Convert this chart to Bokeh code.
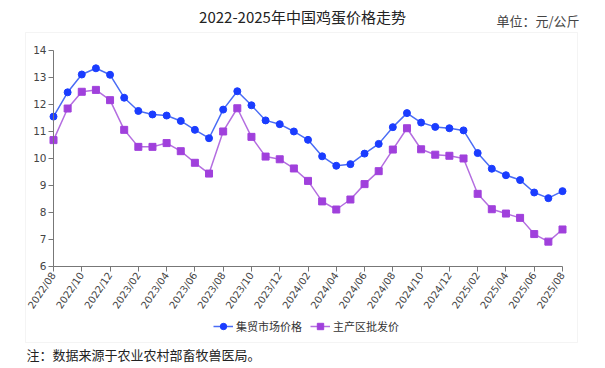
import math
from bokeh.plotting import figure
from bokeh.models import (Range1d, FixedTicker, Label, BoxAnnotation, Legend,
                          LegendItem, ColumnDataSource)
from bokeh.embed import file_html
from bokeh.resources import INLINE

# ---------------- data ----------------
months = ["2022/08", "2022/09", "2022/10", "2022/11", "2022/12",
          "2023/01", "2023/02", "2023/03", "2023/04", "2023/05", "2023/06",
          "2023/07", "2023/08", "2023/09", "2023/10", "2023/11", "2023/12",
          "2024/01", "2024/02", "2024/03", "2024/04", "2024/05", "2024/06",
          "2024/07", "2024/08", "2024/09", "2024/10", "2024/11", "2024/12",
          "2025/01", "2025/02", "2025/03", "2025/04", "2025/05", "2025/06",
          "2025/07", "2025/08"]
market = [11.54, 12.44, 13.10, 13.33, 13.09,
          12.24, 11.75, 11.62, 11.58, 11.38, 11.05, 10.74, 11.80, 12.48, 11.96, 11.40, 11.26,
          10.99, 10.68, 10.07, 9.72, 9.78, 10.17, 10.53, 11.15, 11.67, 11.32, 11.16, 11.11,
          11.03, 10.19, 9.61, 9.37, 9.19, 8.73, 8.52, 8.78]
wholesale = [10.67, 11.84, 12.46, 12.53, 12.15,
             11.05, 10.42, 10.42, 10.56, 10.26, 9.83, 9.43, 10.99, 11.85, 10.79, 10.06, 9.96,
             9.62, 9.16, 8.40, 8.10, 8.47, 9.04, 9.52, 10.32, 11.11, 10.33, 10.13, 10.09,
             9.99, 8.68, 8.11, 7.95, 7.79, 7.19, 6.91, 7.36]
series_names = ["集贸市场价格", "主产区批发价"]
y_ticks = [6, 7, 8, 9, 10, 11, 12, 13, 14]
title_text = "2022-2025年中国鸡蛋价格走势"
unit_text = "单位：元/公斤"
note_text = "注：数据来源于农业农村部畜牧兽医局。"

# ---------------- layout ----------------
W, H = 605, 368
PAGE = 0
FL, FR, FT, FB = 53, 562, 49.7, 265.7   # axis extents in page pixels
n = len(months)
xs = list(range(n))
x0, x1 = 0, n - 1
y0, y1 = 6, 14

def px2x(px):
    return x0 + (px - FL) * (x1 - x0) / (FR - FL)

def py2y(py):
    return y0 + (FB - py) * (y1 - y0) / (FB - FT)

p = figure(width=W, height=H, output_backend="svg", toolbar_location=None,
           x_range=Range1d(px2x(PAGE), px2x(PAGE + W)),
           y_range=Range1d(py2y(PAGE + H), py2y(PAGE)),
           min_border=0, background_fill_color="white", border_fill_color="white")
p.title.visible = False
p.outline_line_color = None
p.grid.visible = False

# box around chart
p.add_layout(BoxAnnotation(left=px2x(25), right=px2x(577), top=py2y(32), bottom=py2y(342),
                           fill_alpha=0, line_color="#d9d9d9", line_width=1, level="underlay"))

# axes
axis_color = "#777777"
lbl_color = "#444444"
p.yaxis.fixed_location = x0
p.yaxis.bounds = (y0, y1)
p.yaxis.ticker = FixedTicker(ticks=y_ticks)
p.yaxis.axis_line_color = axis_color
p.yaxis.major_tick_line_color = axis_color
p.yaxis.major_tick_out = 5
p.yaxis.major_tick_in = 0
p.yaxis.minor_tick_line_color = None
p.yaxis.major_label_text_font = "DejaVu Sans"
p.yaxis.major_label_text_font_size = "10.5px"
p.yaxis.major_label_text_color = lbl_color
p.yaxis.major_label_standoff = 2

p.xaxis.fixed_location = y0
p.xaxis.bounds = (x0, x1)
p.xaxis.ticker = FixedTicker(ticks=xs[::2])
p.xaxis.major_label_overrides = {i: months[i] for i in xs[::2]}
p.xaxis.major_label_orientation = math.radians(56)
p.xaxis.axis_line_color = axis_color
p.xaxis.major_tick_line_color = axis_color
p.xaxis.major_tick_out = 5
p.xaxis.major_tick_in = 0
p.xaxis.minor_tick_line_color = None
p.xaxis.major_label_text_font = "DejaVu Sans"
p.xaxis.major_label_text_font_size = "10px"
p.xaxis.major_label_text_color = lbl_color
p.xaxis.major_label_standoff = 2

src = ColumnDataSource(dict(x=xs, market=market, wholesale=wholesale))
l1 = p.line("x", "market", source=src, line_color="#4a6cf5", line_width=1.5)
m1 = p.scatter("x", "market", source=src, marker="circle", size=7,
               fill_color="#1a3cff", line_color="#1a3cff")
l2 = p.line("x", "wholesale", source=src, line_color="#b46ee0", line_width=1.5)
m2 = p.scatter("x", "wholesale", source=src, marker="square", size=7,
               fill_color="#a040dc", line_color="#a040dc")

legend = Legend(items=[LegendItem(label=series_names[0], renderers=[l1, m1]),
                       LegendItem(label=series_names[1], renderers=[l2, m2])],
                orientation="horizontal", location=(213 - PAGE, PAGE + H - 334),
                background_fill_alpha=0, border_line_alpha=0,
                label_text_font="Noto Sans CJK SC", label_text_font_size="11px",
                label_text_color="#333333", glyph_width=20, glyph_height=16,
                label_standoff=3, spacing=8, padding=0, margin=0)
p.add_layout(legend, "center")

# texts
p.add_layout(Label(x=px2x(302), y=py2y(16), text=title_text, text_align="center",
                   text_baseline="middle", text_font="Noto Sans CJK SC",
                   text_font_size="15px", text_color="#222222"))
p.add_layout(Label(x=px2x(579), y=py2y(20), text=unit_text, text_align="right",
                   text_baseline="middle", text_font="Noto Sans CJK SC",
                   text_font_size="13px", text_color="#444444"))
p.add_layout(Label(x=px2x(26), y=py2y(354), text=note_text, text_align="left",
                   text_baseline="middle", text_font="Noto Sans CJK SC",
                   text_font_size="13px", text_color="#222222"))

open("out.html", "w").write(file_html(p, INLINE))
